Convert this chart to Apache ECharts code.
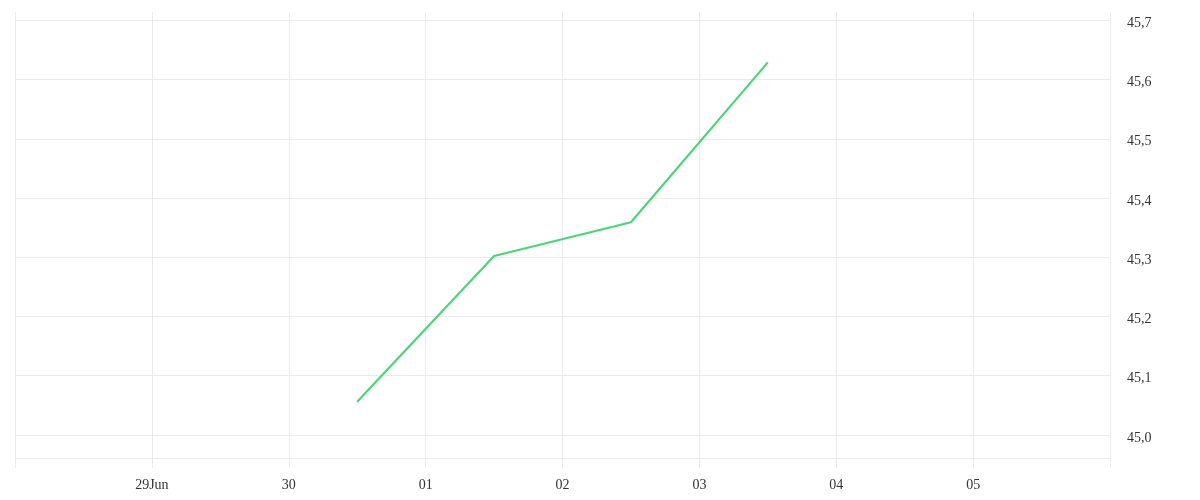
<!DOCTYPE html>
<html>
<head>
<meta charset="utf-8">
<style>
html,body{margin:0;padding:0;background:#fff;}
#chart{width:1200px;height:500px;}
</style>
<script src="https://cdn.jsdelivr.net/npm/echarts@6/dist/echarts.min.js"></script>
</head>
<body>
<div id="chart"></div>
<script>
// Data (dates as UTC days, points at midday)
const dates = ['2024-06-30T12:00:00Z', '2024-07-01T12:00:00Z', '2024-07-02T12:00:00Z', '2024-07-03T12:00:00Z'];
const values = [45.056, 45.302, 45.359, 45.629];
const xStart = '2024-06-28T00:00:00Z';
const xEnd = '2024-07-06T00:00:00Z';
const yMin = 44.961;
const yMax = 45.714;
const monthNames = ['Jan','Feb','Mar','Apr','May','Jun','Jul','Aug','Sep','Oct','Nov','Dec'];

const DAY = 86400000;
const xMin = Date.parse(xStart);
const xMax = Date.parse(xEnd);
const seriesData = dates.map((d, i) => [Date.parse(d), values[i]]);

const chart = echarts.init(document.getElementById('chart'));
const gridColor = '#ebebeb';
const fontFamily = '"Liberation Serif", "DejaVu Serif", serif';
chart.setOption({
  animation: false,
  grid: { left: 15, right: 90, top: 12, bottom: 42, containLabel: false },
  xAxis: {
    type: 'value',
    min: xMin,
    max: xMax,
    interval: DAY,
    axisLine: { show: true, onZero: false, lineStyle: { color: gridColor, width: 1 } },
    axisTick: { show: true, inside: false, length: 10, lineStyle: { color: gridColor, width: 1 } },
    splitLine: { show: true, lineStyle: { color: gridColor, width: 1 } },
    axisLabel: {
      showMinLabel: true,
      showMaxLabel: true,
      hideOverlap: false,
      margin: 20,
      color: '#333',
      fontSize: 14,
      fontFamily: fontFamily,
      formatter: function (v) {
        if (Math.abs(v - xMin) < 1 || Math.abs(v - xMax) < 1) return '';
        const d = new Date(v);
        const day = String(d.getUTCDate()).padStart(2, '0');
        if (Math.abs(v - (xMin + DAY)) < 1) return day + monthNames[d.getUTCMonth()];
        return day;
      }
    }
  },
  yAxis: {
    type: 'value',
    position: 'right',
    min: yMin,
    max: yMax,
    minInterval: 0.1,
    maxInterval: 0.1,
    axisLine: { show: false },
    axisTick: { show: false },
    splitLine: { show: true, showMaxLine: false, lineStyle: { color: gridColor, width: 1 } },
    axisLabel: {
      showMinLabel: false,
      showMaxLabel: false,
      margin: 17,
      color: '#333',
      fontSize: 14,
      fontFamily: fontFamily,
      formatter: function (v) { return '{a|' + v.toFixed(1).replace('.', ',') + '}'; },
      rich: { a: { padding: [6, 0, 0, 0], fontSize: 14, fontFamily: fontFamily, color: '#333' } }
    }
  },
  series: [{
    type: 'line',
    data: seriesData,
    showSymbol: false,
    symbol: 'none',
    lineStyle: { color: '#4cd47a', width: 2.2 },
    itemStyle: { color: '#4cd47a' }
  }]
});
</script>
</body>
</html>
